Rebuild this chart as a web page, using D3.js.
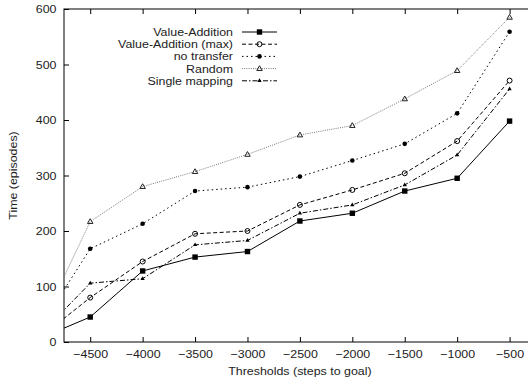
<!DOCTYPE html>
<html>
<head>
<meta charset="utf-8">
<script src="https://cdn.jsdelivr.net/npm/d3@7"></script>
<style>
  html, body { margin: 0; padding: 0; background: #fff; }
  svg { display: block; font-family: "Liberation Sans", Arial, Helvetica, sans-serif; }
</style>
</head>
<body>
<svg id="chart" width="528" height="383"></svg>
<script>
// Threshold (steps to goal) at which each curve is sampled
const thresholds = [-5000, -4500, -4000, -3500, -3000, -2500, -2000, -1500, -1000, -500];
const xTicks = [-4500, -4000, -3500, -3000, -2500, -2000, -1500, -1000, -500];
const yTicks = [0, 100, 200, 300, 400, 500, 600];

// Time (episodes) to reach each threshold
const valueAddition    = [5, 45, 128, 153, 163, 218, 232, 272, 295, 398];
const valueAdditionMax = [5, 80, 145, 195, 200, 247, 274, 304, 362, 471];
const noTransfer       = [20, 168, 213, 272, 279, 298, 327, 357, 412, 559];
const randomMapping    = [18, 217, 280, 307, 338, 373, 390, 438, 489, 585];
const singleMapping    = [9, 106, 114, 175, 183, 232, 247, 283, 337, 456];

const seriesNames = ["Value-Addition", "Value-Addition (max)", "no transfer", "Random", "Single mapping"];

const series = [
  { name: seriesNames[0], values: valueAddition,    color: "#000", dash: null,        marker: "square" },
  { name: seriesNames[1], values: valueAdditionMax, color: "#000", dash: "4,2.5",     marker: "openCircle" },
  { name: seriesNames[2], values: noTransfer,       color: "#000", dash: "1.5,3",     marker: "dot" },
  { name: seriesNames[3], values: randomMapping,    color: "#777", dash: "1,1.2",     marker: "openTriangle" },
  { name: seriesNames[4], values: singleMapping,    color: "#000", dash: "5,2,1.5,2", marker: "triangle" }
];

const svg = d3.select("#chart");
const plotLeft = 64, plotTop = 9, plotBottom = 342;
const textStretch = "scale(1.08,1)";

const x = d3.scaleLinear().domain([-4750, -250]).range([plotLeft, 535.8]);
const y = d3.scaleLinear().domain([0, 600]).range([plotBottom, plotTop]);
const plotRight = x.range()[1];

// clipping for the plot region
svg.append("defs").append("clipPath").attr("id", "plotClip")
  .append("rect").attr("x", plotLeft).attr("y", plotTop)
  .attr("width", plotRight - plotLeft).attr("height", plotBottom - plotTop);

// axes with inward ticks, mirrored on top
const fontSize = "11.5px";
const gx = svg.append("g").attr("transform", `translate(0,${plotBottom})`)
  .call(d3.axisBottom(x).tickValues(xTicks).tickSize(-5).tickPadding(8).tickFormat(d3.format("d")));
const gxTop = svg.append("g").attr("transform", `translate(0,${plotTop})`)
  .call(d3.axisTop(x).tickValues(xTicks).tickSize(-5).tickFormat(""));
const gy = svg.append("g").attr("transform", `translate(${plotLeft},0)`)
  .call(d3.axisLeft(y).tickValues(yTicks).tickSize(-5).tickPadding(7).tickFormat(d3.format("d")));

[gx, gxTop, gy].forEach(g => {
  g.select(".domain").remove();
  g.selectAll(".tick line").attr("stroke", "#000");
  g.selectAll(".tick text").attr("fill", "#222").style("font-size", fontSize)
    .style("font-family", "'Liberation Sans', Arial, sans-serif")
    .attr("transform", textStretch);
});

// frame
svg.append("rect").attr("x", plotLeft).attr("y", plotTop)
  .attr("width", plotRight - plotLeft).attr("height", plotBottom - plotTop)
  .attr("fill", "none").attr("stroke", "#000").attr("stroke-width", 1);

// text placed at (px, py), widened slightly
function label(parent, px, py, str, anchor, rotate) {
  const g = parent.append("g").attr("transform", `translate(${px},${py})` + (rotate ? ` rotate(${rotate})` : ""));
  g.append("text").attr("transform", textStretch).attr("text-anchor", anchor)
    .attr("fill", "#222").style("font-size", fontSize).text(str);
  return g;
}

// axis titles
label(svg, (plotLeft + plotRight) / 2, 375, "Thresholds (steps to goal)", "middle");
label(svg, 17, (plotTop + plotBottom) / 2, "Time (episodes)", "middle", -90);

// marker drawing
function drawMarker(g, type, cx, cy, color) {
  if (type === "square") {
    g.append("rect").attr("x", cx - 2.7).attr("y", cy - 2.7).attr("width", 5.4).attr("height", 5.4).attr("fill", color);
  } else if (type === "openCircle") {
    g.append("circle").attr("cx", cx).attr("cy", cy).attr("r", 2.5)
      .attr("fill", "none").attr("stroke", color).attr("stroke-width", 1);
  } else if (type === "dot") {
    g.append("circle").attr("cx", cx).attr("cy", cy).attr("r", 2.3).attr("fill", color);
  } else if (type === "openTriangle") {
    g.append("path").attr("d", d3.symbol(d3.symbolTriangle, 13)()).attr("transform", `translate(${cx},${cy + 0.3})`)
      .attr("fill", "none").attr("stroke", color).attr("stroke-width", 1);
  } else if (type === "triangle") {
    g.append("path").attr("d", d3.symbol(d3.symbolTriangle, 8)()).attr("transform", `translate(${cx},${cy})`)
      .attr("fill", color);
  }
}

const plot = svg.append("g").attr("clip-path", "url(#plotClip)");
const line = d3.line().x(d => x(d[0])).y(d => y(d[1]));

series.forEach(s => {
  const pts = thresholds.map((t, i) => [t, s.values[i]]);
  plot.append("path").datum(pts).attr("d", line)
    .attr("fill", "none").attr("stroke", s.color).attr("stroke-width", 1)
    .attr("stroke-dasharray", s.dash);
  const mg = plot.append("g");
  const mColor = s.marker === "openTriangle" ? "#222" : s.color;
  pts.forEach(p => drawMarker(mg, s.marker, x(p[0]), y(p[1]), mColor));
});

// legend
const legend = svg.append("g");
series.forEach((s, i) => {
  const ly = 32 + i * 12.2;
  label(legend, 233, ly + 4, s.name, "end");
  legend.append("line").attr("x1", 242).attr("x2", 277).attr("y1", ly).attr("y2", ly)
    .attr("stroke", s.color).attr("stroke-width", 1).attr("stroke-dasharray", s.dash);
  drawMarker(legend, s.marker, 259.5, ly, s.marker === "openTriangle" ? "#222" : s.color);
});
</script>
</body>
</html>
